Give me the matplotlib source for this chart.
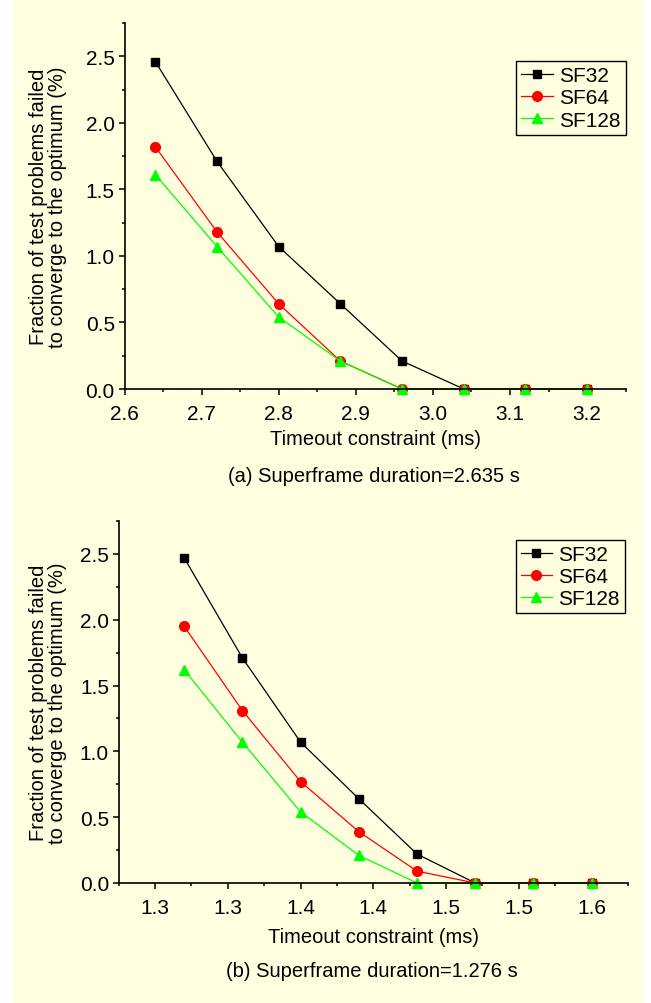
import matplotlib
matplotlib.use('Agg')
import matplotlib.pyplot as plt
from matplotlib.patches import Rectangle
from matplotlib.ticker import MultipleLocator, FormatStrFormatter

plt.rcParams['font.family'] = ['Liberation Sans', 'DejaVu Sans']
plt.rcParams['font.size'] = 14

# data, panel (a)
x_a = [2.64, 2.72, 2.80, 2.88, 2.96, 3.04, 3.12, 3.20]
sf32_a = [2.46, 1.71, 1.07, 0.64, 0.21, 0.0, 0.0, 0.0]
sf64_a = [1.82, 1.18, 0.64, 0.21, 0.0, 0.0, 0.0, 0.0]
sf128_a = [1.61, 1.07, 0.54, 0.21, 0.0, 0.0, 0.0, 0.0]

# data, panel (b)
x_b = [1.32, 1.36, 1.40, 1.44, 1.48, 1.52, 1.56, 1.60]
sf32_b = [2.47, 1.71, 1.07, 0.64, 0.22, 0.0, 0.0, 0.0]
sf64_b = [1.95, 1.31, 0.77, 0.39, 0.09, 0.0, 0.0, 0.0]
sf128_b = [1.62, 1.07, 0.54, 0.21, 0.0, 0.0, 0.0, 0.0]

ticks_a = [2.6, 2.7, 2.8, 2.9, 3.0, 3.1, 3.2]
ticks_b = [1.30, 1.35, 1.40, 1.45, 1.50, 1.55, 1.60]
ticklabels_b = ['1.3', '1.3', '1.4', '1.4', '1.5', '1.5', '1.6']

series_names = ['SF32', 'SF64', 'SF128']
captions = ['(a) Superframe duration=2.635 s', '(b) Superframe duration=1.276 s']

W, H = 651, 1004
fig = plt.figure(figsize=(W / 100, H / 100), dpi=100, facecolor='white')
fig.patches.append(Rectangle((13 / W, 0), 630 / W, 1 - 1 / H, transform=fig.transFigure,
                             facecolor='#FFFFE0', edgecolor='none', zorder=-10))

ax_a = fig.add_axes([124.5 / W, 1 - 390 / H, 501.2 / W, 366 / H])
ax_b = fig.add_axes([118.7 / W, 1 - 884 / H, 509.3 / W, 362 / H])

styles = [dict(color='black', marker='s', ms=6),
          dict(color='red', marker='o', ms=7),
          dict(color='#00FF00', marker='^', ms=7)]


def draw(ax, x, ys, xlim, xticks, xlabels, leg_anchor, ylab_x, xlab_y):
    ax.set_facecolor('none')
    for y, name, st in zip(ys, series_names, styles):
        ax.plot(x, y, lw=0.9, mec=st['color'], label=name, clip_on=False, **st)
    ax.set_xlim(*xlim)
    ax.set_ylim(0, 2.75)
    ax.set_xticks(xticks)
    if xlabels is not None:
        ax.set_xticklabels(xlabels)
    else:
        ax.xaxis.set_major_formatter(FormatStrFormatter('%.1f'))
    ax.xaxis.set_minor_locator(MultipleLocator((xticks[1] - xticks[0]) / 2))
    ax.yaxis.set_major_locator(MultipleLocator(0.5))
    ax.yaxis.set_minor_locator(MultipleLocator(0.25))
    ax.yaxis.set_major_formatter(FormatStrFormatter('%.1f'))
    for s in ['top', 'right']:
        ax.spines[s].set_visible(False)
    for s in ['left', 'bottom']:
        ax.spines[s].set_linewidth(1.2)
    ax.tick_params(which='major', length=4.5, width=1.1, labelsize=15)
    ax.tick_params(which='minor', length=2.5, width=1.1)
    ax.tick_params(axis='x', which='major', pad=6)
    ax.tick_params(axis='y', which='major', pad=2.5)
    ax.set_xlabel('Timeout constraint (ms)', fontsize=14.5)
    ax.xaxis.set_label_coords(0.5, xlab_y)
    ax.xaxis.label.set_va('center')
    ax.set_ylabel('Fraction of test problems failed\nto converge to the optimum (%)',
                  fontsize=14.5, linespacing=1.0)
    ax.yaxis.set_label_coords(ylab_x, 0.5)
    ax.yaxis.label.set_va('center')
    leg = ax.legend(loc='upper right', bbox_to_anchor=leg_anchor, fontsize=15,
                    handlelength=1.5, handletextpad=0.3, borderpad=0.25,
                    labelspacing=0.15, fancybox=False, framealpha=1,
                    borderaxespad=0)
    leg.get_frame().set_edgecolor('black')
    leg.get_frame().set_facecolor('#FFFFE0')
    leg.get_frame().set_linewidth(1.0)


draw(ax_a, x_a, [sf32_a, sf64_a, sf128_a], (2.6, 3.25), ticks_a, None,
     (1.0, 0.896), -0.1526, -0.1366)
draw(ax_b, x_b, [sf32_b, sf64_b, sf128_b], (1.275, 1.625), ticks_b, ticklabels_b,
     (0.994, 0.948), -0.1388, -0.149)

fig.text(374 / W, 1 - 477 / H, captions[0], ha='center', va='center', fontsize=14.5)
fig.text(372 / W, 1 - 971.5 / H, captions[1], ha='center', va='center', fontsize=14.5)

fig.savefig('out.png', dpi=100, facecolor='white')
